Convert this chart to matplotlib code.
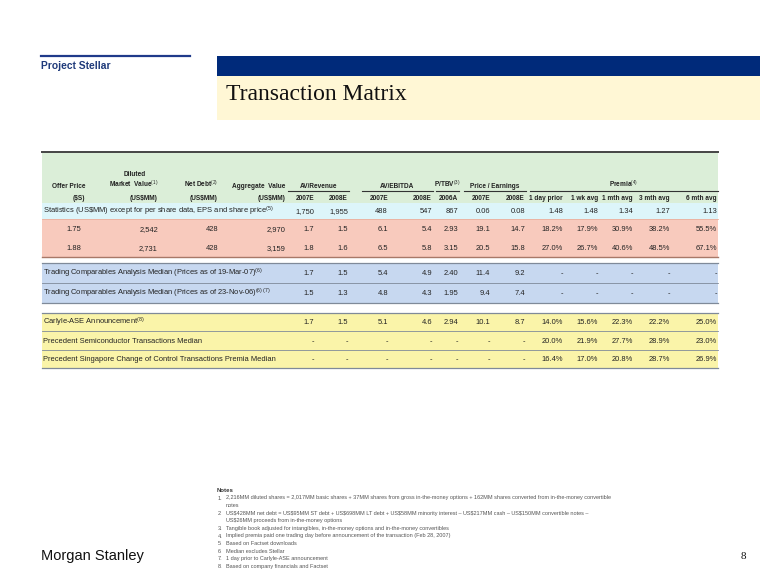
import matplotlib
matplotlib.use("Agg")
import matplotlib.pyplot as plt
from matplotlib.patches import Rectangle

plt.rcParams['font.family'] = ['Liberation Sans', 'DejaVu Sans']
plt.rcParams['mathtext.fontset'] = 'custom'
plt.rcParams['mathtext.rm'] = 'Liberation Sans'
plt.rcParams['mathtext.bf'] = 'Liberation Sans:bold'

### data ###############################
sub_headers = ['2007E', '2008E', '2007E', '2008E', '2006A', '2007E', '2008E',
               '1 day prior', '1 wk avg', '1 mth avg', '3 mth avg', '6 mth avg']
group_headers = ['AV/Revenue', 'AV/EBITDA', 'P/TBV$^{(3)}$', 'Price / Earnings', 'Premia$^{(4)}$']
group_span = [(0, 1), (2, 3), (4, 4), (5, 6), (7, 11)]

stats_label = r'Statistics (US\$MM) except for per share data, EPS and share price$^{(5)}$'
stats_vals = ['1,750', '1,955', '488', '547', '867', '0.06', '0.08', '1.48', '1.48', '1.34', '1.27', '1.13']

offer_price = ['1.75', '1.88']
market_value = ['2,542', '2,731']
net_debt = ['428', '428']
agg_value = ['2,970', '3,159']
offer_multiples = [
    [1.7, 1.5, 6.1, 5.4, 2.93, 19.1, 14.7],
    [1.8, 1.6, 6.5, 5.8, 3.15, 20.5, 15.8],
]
offer_premia = [
    [18.2, 17.9, 30.9, 38.2, 55.5],
    [27.0, 26.7, 40.6, 48.5, 67.1],
]

comp_labels = ['Trading Comparables Analysis Median (Prices as of 19-Mar-07)$^{(6)}$',
               'Trading Comparables Analysis Median (Prices as of 23-Nov-06)$^{(6)\\,(7)}$']
comp_multiples = [
    [1.7, 1.5, 5.4, 4.9, 2.40, 11.4, 9.2],
    [1.5, 1.3, 4.8, 4.3, 1.95, 9.4, 7.4],
]
comp_premia = [[None] * 5, [None] * 5]

prec_labels = ['Carlyle-ASE Announcement$^{(8)}$',
               'Precedent Semiconductor Transactions Median',
               'Precedent Singapore Change of Control Transactions Premia Median']
prec_multiples = [
    [1.7, 1.5, 5.1, 4.6, 2.94, 10.1, 8.7],
    [None] * 7,
    [None] * 7,
]
prec_premia = [
    [14.0, 15.6, 22.3, 22.2, 25.0],
    [20.0, 21.9, 27.7, 28.9, 23.0],
    [16.4, 17.0, 20.8, 28.7, 26.9],
]

notes = [
    ('1.', '2,216MM diluted shares = 2,017MM basic shares + 37MM shares from gross in-the-money options + 162MM shares converted from in-the-money convertible'),
    ('', 'notes'),
    ('2.', 'US\\$428MM net debt = US\\$95MM ST debt + US\\$698MM LT debt + US\\$58MM minority interest \u2013 US\\$217MM cash \u2013 US\\$150MM convertible notes \u2013'),
    ('', 'US$26MM proceeds from in-the-money options'),
    ('3.', 'Tangible book adjusted for intangibles, in-the-money options and in-the-money convertibles'),
    ('4.', 'Implied premia paid one trading day before announcement of the transaction (Feb 28, 2007)'),
    ('5.', 'Based on Factset downloads'),
    ('6.', 'Median excludes Stellar'),
    ('7.', '1 day prior to Carlyle-ASE announcement'),
    ('8.', 'Based on company financials and Factset'),
]
#########################################

def fmt_row(mults, prem):
    out = []
    for i, v in enumerate(mults):
        if v is None:
            out.append('-')
        elif i == 4:
            out.append('{0:.2f}'.format(v))
        else:
            out.append('{0:.1f}'.format(v))
    for v in prem:
        out.append('-' if v is None else '{0:.1f}%'.format(v))
    return out

# layout (pixel coords)
X0, X1 = 42, 718
col_r = [314, 348, 388, 432, 458, 490, 525, 563, 598, 633, 670, 717]
txt = '#222222'
fs = 5.4
hfs = 4.7
bl = 2.3   # baseline offset below row centre

fig = plt.figure(figsize=(7.6, 5.87), dpi=100)
ax = fig.add_axes([0, 0, 1, 1])
ax.set_xlim(0, 760)
ax.set_ylim(587, 0)
ax.axis('off')

# page header
ax.plot([41, 190], [56, 56], color='#1F3A8A', lw=1.6)
ax.text(41, 69, 'Project Stellar', fontsize=7.4, fontweight='bold', color='#1F3A7A', va='baseline')
ax.add_patch(Rectangle((217, 56), 543, 20, color='#002A7A', lw=0))
ax.add_patch(Rectangle((217, 76), 543, 44, color='#FFF7D5', lw=0))
ax.text(226, 99.5, 'Transaction Matrix', fontsize=17, family='Liberation Serif', color='#111111', va='baseline')

# header block
ax.add_patch(Rectangle((X0, 152), X1 - X0, 51, color='#DBEED8', lw=0))
ax.plot([X0, X1], [152, 152], color='#444444', lw=1.4)
hkw = dict(fontsize=hfs, fontweight='bold', color=txt, va='baseline')
ax.text(135, 175.5, 'Diluted', ha='center', **hkw)
ax.text(85, 187.5, 'Offer Price', ha='right', **hkw)
ax.text(158, 187.5, 'Market  Value$^{(1)}$', ha='right', **hkw)
ax.text(218, 187.5, 'Net Debt$^{(2)}$', ha='right', **hkw)
ax.text(285, 187.5, 'Aggregate  Value', ha='right', **hkw)
ax.text(85, 200, '($S)', ha='right', **hkw)
for xr in [158, 218, 285]:
    ax.text(xr, 200, '(US$MM)', ha='right', **hkw)

line_l = [288, 362, 436, 464, 530]
for (a, b), lab, xl in zip(group_span, group_headers, line_l):
    xr = col_r[b] + 1
    ax.plot([xl, xr], [190.5, 190.5], color='#333333', lw=0.8)
    ax.text((xl + xr) / 2, 187.5, lab, ha='center', **hkw)
for xr, lab in zip(col_r, sub_headers):
    ax.text(xr, 200, lab, ha='right', **hkw)

# statistics row
ax.add_patch(Rectangle((X0, 203), X1 - X0, 16, color='#DDF5FA', lw=0))
ax.text(43, 211 + bl, stats_label, fontsize=fs, color=txt, va='baseline')
for xr, v in zip(col_r, stats_vals):
    ax.text(xr, 211 + bl, v, fontsize=fs, color=txt, va='baseline', ha='right')

# offer rows
ax.add_patch(Rectangle((X0, 219), X1 - X0, 38, color='#F8CABD', lw=0))
ax.plot([X0, X1], [219, 219], color='#E8B0A0', lw=0.6)
ax.plot([X0, X1], [257, 257], color='#A87868', lw=1.0)
for i, yy in enumerate([228.5, 247.5]):
    yb = yy + bl
    ax.text(74, yb, offer_price[i], fontsize=fs, color=txt, va='baseline', ha='center')
    ax.text(158, yb, market_value[i], fontsize=fs, color=txt, va='baseline', ha='right')
    ax.text(218, yb, net_debt[i], fontsize=fs, color=txt, va='baseline', ha='right')
    ax.text(286, yb, agg_value[i], fontsize=fs, color=txt, va='baseline', ha='right')
    for xr, v in zip(col_r, fmt_row(offer_multiples[i], offer_premia[i])):
        ax.text(xr, yb, v, fontsize=fs, color=txt, va='baseline', ha='right')

# band helper
def band(y0, labels, mults, prem, color, step):
    n = len(labels)
    ax.add_patch(Rectangle((X0, y0), X1 - X0, n * step, color=color, lw=0))
    for k in range(n + 1):
        ax.plot([X0, X1], [y0 + k * step] * 2, color='#7F8A99', lw=0.9 if k in (0, n) else 0.6)
    for i in range(n):
        yb = y0 + step * (i + 0.5) + bl
        ax.text(43, yb, labels[i], fontsize=fs, color=txt, va='baseline')
        for xr, v in zip(col_r, fmt_row(mults[i], prem[i])):
            ax.text(xr, yb, v, fontsize=fs, color=txt, va='baseline', ha='right')

band(263, comp_labels, comp_multiples, comp_premia, '#C7D8F0', 20)
band(313, prec_labels, prec_multiples, prec_premia, '#FAF4A9', 18.3)

# notes
ax.text(217, 491.5, 'Notes', fontsize=4.3, fontweight='bold', color='#333333', va='baseline')
for i, (num, line) in enumerate(notes):
    yy = 499.5 + i * 7.6
    ax.text(218, yy, num, fontsize=4.0, color='#555555', va='baseline')
    ax.text(226, yy, line, fontsize=4.0, color='#555555', va='baseline')

# footer
ax.text(41, 560, 'Morgan Stanley', fontsize=10.5, color='#111111', va='baseline')
ax.text(741, 559, '8', fontsize=8, family='Liberation Serif', color='#111111', va='baseline')

fig.savefig('out.png', dpi=100)
